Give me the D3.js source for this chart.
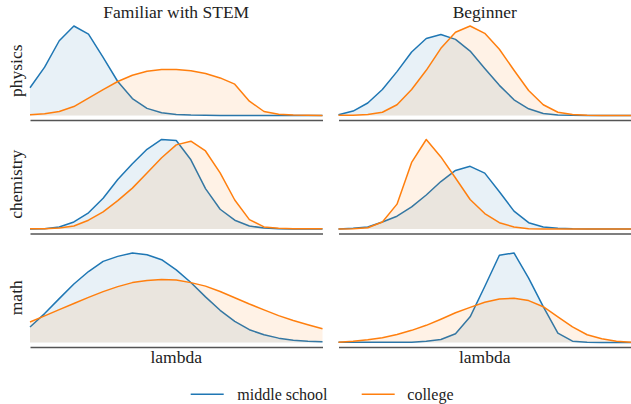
<!DOCTYPE html>
<html>
<head>
<meta charset="utf-8">
<script src="https://cdn.jsdelivr.net/npm/d3@7"></script>
<style>
  html, body { margin: 0; padding: 0; background: #fff; }
  svg { display: block; }
  text { font-family: "Liberation Serif", "DejaVu Serif", serif; fill: #222; }
</style>
</head>
<body>
<svg id="chart" width="631" height="404"></svg>
<script>
// ---------- DATA ----------
const lambdaGrid = [0, 0.05, 0.1, 0.15, 0.2, 0.25, 0.3, 0.35, 0.4, 0.45, 0.5, 0.55, 0.6, 0.65, 0.7, 0.75, 0.8, 0.85, 0.9, 0.95, 1.0];
const columns = ["Familiar with STEM", "Beginner"];
const subjects = ["physics", "chemistry", "math"];
const seriesNames = ["middle school", "college"];
const seriesColors = ["#1f77b4", "#ff7f0e"];

const physicsFamiliarMiddle = [0.31, 0.54, 0.835, 1.0, 0.91, 0.65, 0.38, 0.19, 0.08, 0.03, 0.012, 0.005, 0.002, 0.001, 0, 0, 0, 0, 0, 0, 0];
const physicsFamiliarCollege = [0.008, 0.02, 0.045, 0.10, 0.195, 0.29, 0.38, 0.45, 0.495, 0.513, 0.513, 0.50, 0.47, 0.42, 0.35, 0.16, 0.045, 0.015, 0.005, 0.002, 0.001];
const physicsBeginnerMiddle = [0.008, 0.05, 0.14, 0.29, 0.49, 0.71, 0.86, 0.905, 0.85, 0.72, 0.525, 0.337, 0.176, 0.075, 0.022, 0.006, 0.002, 0.001, 0, 0, 0];
const physicsBeginnerCollege = [0.002, 0.004, 0.011, 0.037, 0.12, 0.29, 0.505, 0.75, 0.93, 1.0, 0.918, 0.74, 0.505, 0.28, 0.12, 0.037, 0.011, 0.004, 0.001, 0, 0];

const chemistryFamiliarMiddle = [0, 0.004, 0.023, 0.079, 0.18, 0.342, 0.55, 0.726, 0.887, 0.996, 0.985, 0.77, 0.45, 0.22, 0.098, 0.034, 0.011, 0.004, 0.001, 0, 0];
const chemistryFamiliarCollege = [0.002, 0.004, 0.011, 0.034, 0.098, 0.19, 0.316, 0.455, 0.624, 0.793, 0.936, 0.977, 0.868, 0.624, 0.323, 0.105, 0.023, 0.008, 0.004, 0.002, 0.002];
const chemistryBeginnerMiddle = [0, 0.008, 0.023, 0.079, 0.143, 0.248, 0.38, 0.53, 0.654, 0.70, 0.624, 0.417, 0.2, 0.071, 0.023, 0.008, 0.002, 0.001, 0, 0, 0];
const chemistryBeginnerCollege = [0, 0.004, 0.015, 0.079, 0.278, 0.744, 1.0, 0.805, 0.57, 0.33, 0.173, 0.071, 0.023, 0.004, 0.001, 0, 0, 0, 0, 0, 0];

const mathFamiliarMiddle = [0.173, 0.323, 0.49, 0.654, 0.793, 0.906, 0.962, 1.0, 0.98, 0.925, 0.812, 0.67, 0.51, 0.36, 0.237, 0.143, 0.086, 0.049, 0.026, 0.015, 0.008];
const mathFamiliarCollege = [0.229, 0.297, 0.368, 0.436, 0.504, 0.568, 0.624, 0.669, 0.692, 0.703, 0.699, 0.669, 0.63, 0.57, 0.50, 0.43, 0.365, 0.30, 0.245, 0.198, 0.154];
const mathBeginnerMiddle = [0.002, 0.003, 0.004, 0.004, 0.004, 0.004, 0.015, 0.034, 0.098, 0.287, 0.626, 0.974, 1.0, 0.72, 0.4, 0.106, 0.015, 0.004, 0.001, 0, 0];
const mathBeginnerCollege = [0.004, 0.015, 0.03, 0.053, 0.09, 0.136, 0.192, 0.26, 0.332, 0.392, 0.449, 0.487, 0.494, 0.468, 0.4, 0.287, 0.174, 0.087, 0.042, 0.015, 0.004];

const panelData = [
  [[physicsFamiliarMiddle, physicsFamiliarCollege], [physicsBeginnerMiddle, physicsBeginnerCollege]],
  [[chemistryFamiliarMiddle, chemistryFamiliarCollege], [chemistryBeginnerMiddle, chemistryBeginnerCollege]],
  [[mathFamiliarMiddle, mathFamiliarCollege], [mathBeginnerMiddle, mathBeginnerCollege]]
];

// ---------- LAYOUT ----------
const colX = [[30, 322.5], [338.5, 631]];
const spineY = [120, 233.5, 347];
const panelH = 98.5;

const svg = d3.select("#chart");

subjects.forEach((subj, r) => {
  columns.forEach((col, c) => {
    const series = panelData[r][c];
    const maxV = d3.max(series, s => d3.max(s));
    const x = d3.scaleLinear().domain(d3.extent(lambdaGrid)).range(colX[c]);
    const y = d3.scaleLinear().domain([-0.05 * maxV, 1.05 * maxV]).range([spineY[r], spineY[r] - panelH]);
    const g = svg.append("g");

    series.forEach((vals, k) => {
      const pts = vals.map((v, i) => [lambdaGrid[i], v]);
      const area = d3.area().x(d => x(d[0])).y0(y(0)).y1(d => y(d[1]));
      const line = d3.line().x(d => x(d[0])).y(d => y(d[1]));
      g.append("path").attr("d", area(pts)).attr("fill", seriesColors[k]).attr("fill-opacity", 0.1).attr("stroke", "none");
      g.append("path").attr("d", line(pts)).attr("fill", "none").attr("stroke", seriesColors[k])
        .attr("stroke-width", 1.5).attr("stroke-linejoin", "round");
    });

    // bottom spine via axis without ticks
    const axis = d3.axisBottom(x).tickValues([]).tickSizeOuter(0);
    const ag = g.append("g").attr("transform", `translate(0,${spineY[r]})`).call(axis);
    ag.select(".domain").attr("stroke", "#555").attr("stroke-width", 1.3);

    if (r === 0) {
      svg.append("text").attr("x", (colX[c][0] + colX[c][1]) / 2).attr("y", 18.3)
        .attr("text-anchor", "middle").attr("font-size", 17.5).text(col);
    }
    if (r === subjects.length - 1) {
      svg.append("text").attr("x", (colX[c][0] + colX[c][1]) / 2).attr("y", 363)
        .attr("text-anchor", "middle").attr("font-size", 17.5).text("lambda");
    }
  });
  const cy = spineY[r] - panelH / 2;
  svg.append("text").attr("transform", `translate(21.5,${cy}) rotate(-90)`)
    .attr("text-anchor", "middle").attr("font-size", 17.5).text(subj);
});

// ---------- LEGEND ----------
const legendItems = [
  { x: 190.7, tx: 237.3 },
  { x: 361.7, tx: 407.3 }
];
seriesNames.forEach((name, k) => {
  const it = legendItems[k];
  svg.append("line").attr("x1", it.x).attr("x2", it.x + 33).attr("y1", 394.3).attr("y2", 394.3)
    .attr("stroke", seriesColors[k]).attr("stroke-width", 1.5);
  svg.append("text").attr("x", it.tx).attr("y", 399.5).attr("font-size", 16).text(name);
});
</script>
</body>
</html>
